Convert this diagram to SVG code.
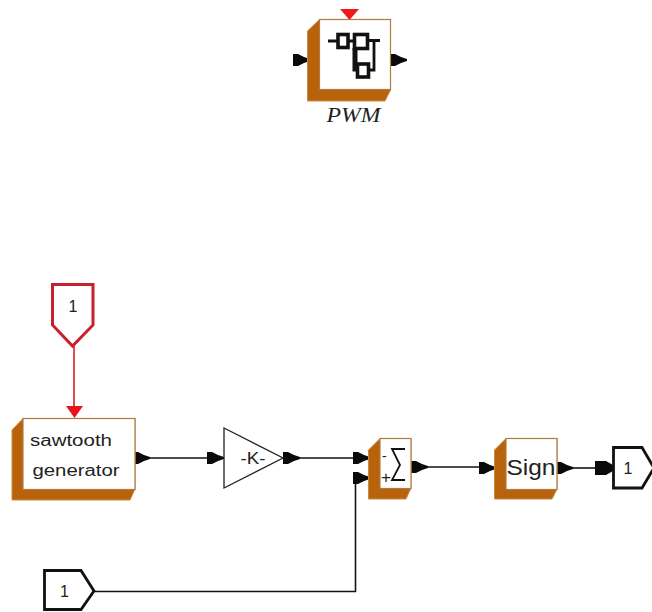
<svg xmlns="http://www.w3.org/2000/svg" width="652" height="612" viewBox="0 0 652 612">
<defs>
<style>
.brown{fill:#b8620c;stroke:#c98a45;stroke-width:1}
.face{fill:#fff;stroke:#b07a40;stroke-width:1.2}
.wire{fill:none;stroke:#111;stroke-width:1.6}
.red{fill:none;stroke:#d81f2a;stroke-width:1.6}
.port{fill:#fff;stroke:#111;stroke-width:2.8}
.t{font-family:"Liberation Sans",Arial,sans-serif;fill:#222}
.ar{fill:#0a0a0a}
</style>
<path id="ah" d="M0,-6 L5,-6 L11,-3 L17,-1 V1 L11,3 L5,6 L0,6 Z"/>
</defs>
<rect width="652" height="612" fill="#fff"/>
<g id="connectors">
<path class="red" d="M74,346V408"/>
<path class="wire" d="M150,458H208"/>
<path class="wire" d="M299,458H354"/>
<path class="wire" d="M428,467H480"/>
<path class="wire" d="M572,468H596"/>
<path class="wire" d="M95,591.500H355.500V478H358"/>
<use href="#ah" class="ar" x="293" y="60"/>
<use href="#ah" class="ar" x="390" y="60"/>
<use href="#ah" class="ar" x="133" y="458"/>
<use href="#ah" class="ar" x="207" y="458"/>
<use href="#ah" class="ar" x="283" y="458"/>
<use href="#ah" class="ar" x="353" y="458"/>
<use href="#ah" class="ar" x="353" y="478"/>
<use href="#ah" class="ar" x="411" y="467"/>
<use href="#ah" class="ar" x="479" y="468"/>
<use href="#ah" class="ar" x="556" y="468"/>
<path class="ar" d="M595,461H606L613,465V471L606,475H595Z"/>
</g>
<g id="pwm">
<path d="M340,9H359L349.500,20Z" fill="#f01818"/>
<path class="brown" d="M319.500,19.500L307.500,31V101H385L390.500,90V19.500Z"/>
<rect class="face" x="319.500" y="19.500" width="71" height="70"/>
<g fill="none" stroke="#111" stroke-width="3.600">
<rect x="338" y="34.500" width="10" height="13"/>
<rect x="354.500" y="34.500" width="13" height="14"/>
<rect x="357.500" y="64" width="11" height="13"/>
<path d="M328,41H338M348,41H356M368,40.500H380M374,40.500V70H369" stroke-width="2.800"/>
<path d="M355,48V69H358" stroke-width="5"/>
</g>
<text class="t" x="353.500" y="122" text-anchor="middle" font-size="22" font-style="italic" textLength="54" lengthAdjust="spacingAndGlyphs" style="font-family:'Liberation Serif',serif">PWM</text>
</g>
<g id="input-red">
<path d="M52.500,284.500H93V325L72.500,346L52.500,325Z" fill="#fff" stroke="#c8202c" stroke-width="3"/>
<text class="t" x="73" y="312" text-anchor="middle" font-size="16">1</text>
<path d="M66,406H83L74.500,418Z" fill="#e8141c"/>
</g>
<g id="sawtooth">
<path class="brown" d="M23,418.500L12,430V500H130L135,489V418.500Z"/>
<rect class="face" x="23" y="418.500" width="112" height="71"/>
<text class="t" x="71" y="446" text-anchor="middle" font-size="16" textLength="82" lengthAdjust="spacingAndGlyphs">sawtooth</text>
<text class="t" x="76" y="476" text-anchor="middle" font-size="16" textLength="87" lengthAdjust="spacingAndGlyphs">generator</text>
</g>
<g id="gain">
<path d="M224,428L283,458L224,488Z" fill="#fff" stroke="#222" stroke-width="1.300"/>
<text class="t" x="253" y="464" text-anchor="middle" font-size="17" textLength="25" lengthAdjust="spacingAndGlyphs">-K-</text>
</g>
<g id="sum">
<path class="brown" d="M380,438.500L368.500,450V499H406L411,488V438.500Z"/>
<rect class="face" x="380" y="438.500" width="31" height="50"/>
<text class="t" x="382" y="461" font-size="14">-</text>
<text class="t" x="381" y="483" font-size="17">+</text>
<path d="M405,449H392L400,465L392,480H405" fill="none" stroke="#111" stroke-width="1.800"/>
</g>
<g id="sign">
<path class="brown" d="M506,438.500L494.500,450V499H552L557,489V438.500Z"/>
<rect class="face" x="506" y="438.500" width="51" height="51"/>
<text class="t" x="531" y="475" text-anchor="middle" font-size="22" textLength="49" lengthAdjust="spacingAndGlyphs">Sign</text>
</g>
<g id="output">
<path class="port" d="M613.500,447.500H642L654,468L642,488H613.500Z"/>
<text class="t" x="628" y="474" text-anchor="middle" font-size="16">1</text>
</g>
<g id="input-bottom">
<path class="port" d="M44.500,570.500H81L94,591L81,609.500H44.500Z"/>
<text class="t" x="64.500" y="597" text-anchor="middle" font-size="16">1</text>
</g>
</svg>
